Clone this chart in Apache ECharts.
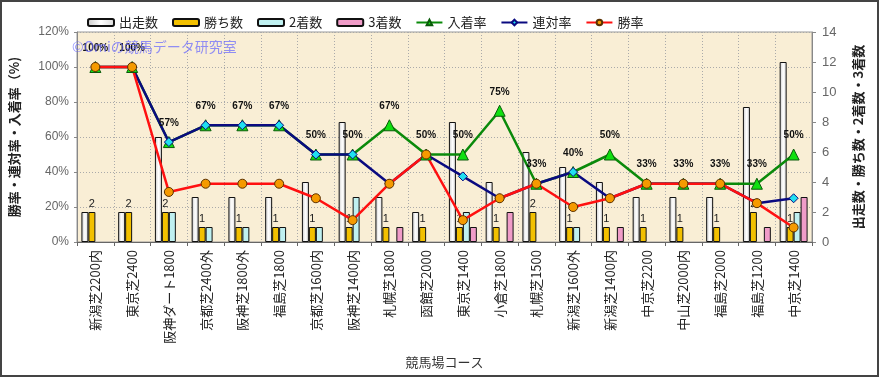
<!DOCTYPE html>
<html>
<head>
<meta charset="utf-8">
<script src="https://cdn.jsdelivr.net/npm/echarts@6/dist/echarts.min.js"></script>
<style>
  html, body { margin: 0; padding: 0; background: #fff; }
  #myChart { width: 881px; height: 378px; }
</style>
</head>
<body>
<div id="myChart"></div>
<script>
// course names (x axis)
const categories = ['新潟芝2200内', '東京芝2400', '阪神ダート1800', '京都芝2400外', '阪神芝1800外', '福島芝1800',
  '京都芝1600内', '阪神芝1400内', '札幌芝1800', '函館芝2000', '東京芝1400', '小倉芝1800', '札幌芝1500',
  '新潟芝1600外', '新潟芝1400内', '中京芝2200', '中山芝2000内', '福島芝2000', '福島芝1200', '中京芝1400'];

// counts (right axis)
const starts  = [2, 2, 7, 3, 3, 3, 4, 8, 3, 2, 8, 4, 6, 5, 4, 3, 3, 3, 9, 12];
const wins    = [2, 2, 2, 1, 1, 1, 1, 1, 1, 1, 1, 1, 2, 1, 1, 1, 1, 1, 2, 1];
const seconds = [0, 0, 2, 1, 1, 1, 1, 3, 0, 0, 2, 0, 0, 1, 0, 0, 0, 0, 0, 2];
const thirds  = [0, 0, 0, 0, 0, 0, 0, 0, 1, 0, 1, 2, 0, 0, 1, 0, 0, 0, 1, 3];

// rates in % (left axis)
const placeRate  = [100, 100, 57.1, 66.7, 66.7, 66.7, 50, 50, 66.7, 50, 50, 75, 33.3, 40, 50, 33.3, 33.3, 33.3, 33.3, 50];
const rentaiRate = [100, 100, 57.1, 66.7, 66.7, 66.7, 50, 50, 33.3, 50, 37.5, 25, 33.3, 40, 25, 33.3, 33.3, 33.3, 22.2, 25];
const winRate    = [100, 100, 28.6, 33.3, 33.3, 33.3, 25, 12.5, 33.3, 50, 12.5, 25, 33.3, 20, 25, 33.3, 33.3, 33.3, 22.2, 8.3];

// tick labels
const leftTicks = [0, 20, 40, 60, 80, 100, 120];
const rightTicks = [0, 2, 4, 6, 8, 10, 12, 14];

const FONT = '"Noto Sans CJK JP", sans-serif';
const myChart = echarts.init(document.getElementById('myChart'));

const barBorder = { borderColor: '#111', borderWidth: 1 };
// zero counts draw no bar at all
const noZero = arr => arr.map(v => (v === 0 ? '-' : v));

const option = {
  backgroundColor: '#fff',
  textStyle: { fontFamily: FONT },
  animation: false,
  legend: {
    left: 82,
    top: 11,
    itemWidth: 26,
    itemHeight: 7,
    itemGap: 14,
    textStyle: { fontSize: 13, color: '#222', fontFamily: FONT },
    data: ['出走数', '勝ち数', '2着数', '3着数', '入着率', '連対率', '勝率']
  },
  grid: {
    left: 76, right: 69, top: 32, bottom: 136,
    show: true,
    backgroundColor: '#f9eed5',
    borderColor: '#999',
    borderWidth: 1
  },
  graphic: [
    {
      type: 'text', left: 72, top: 40, z: 100,
      style: { text: '©Omiの競馬データ研究室', fill: 'rgba(100,100,255,0.7)', font: '14px ' + FONT }
    },
    {
      type: 'rect', z: 100, silent: true,
      shape: { x: 1, y: 1, width: 877, height: 375 },
      style: { fill: 'none', stroke: '#444', lineWidth: 2 }
    }
  ],
  xAxis: {
    type: 'category',
    data: categories,
    name: '競馬場コース',
    nameLocation: 'middle',
    nameGap: 114,
    nameTextStyle: { fontSize: 13, color: '#333' },
    axisLine: { lineStyle: { color: '#666' } },
    axisTick: { show: true, length: 4, lineStyle: { color: '#666' } },
    axisLabel: { rotate: 90, fontSize: 13, color: '#222', margin: 8, interval: 0 },
    splitLine: { show: true, lineStyle: { type: [1, 2], color: '#aaa' } }
  },
  yAxis: [
    {
      type: 'value',
      min: leftTicks[0], max: leftTicks[leftTicks.length - 1], interval: 20,
      name: '勝率・連対率・入着率（%)',
      nameLocation: 'middle',
      nameRotate: 90,
      nameGap: 56,
      nameTextStyle: { fontSize: 13, color: '#222', fontWeight: 'bold' },
      axisLine: { show: true, lineStyle: { color: '#888' } },
      axisTick: { show: true, length: 3, lineStyle: { color: '#888' } },
      axisLabel: { formatter: '{value}%', fontSize: 12, color: '#666', fontFamily: 'Liberation Sans' },
      splitLine: { show: true, lineStyle: { type: [1, 2], color: '#aaa' } }
    },
    {
      type: 'value',
      min: rightTicks[0], max: rightTicks[rightTicks.length - 1], interval: 2,
      name: '出走数・勝ち数・2着数・3着数',
      nameLocation: 'middle',
      nameRotate: 90,
      nameGap: 40,
      nameTextStyle: { fontSize: 13, color: '#222', fontWeight: 'bold' },
      axisLine: { show: true, lineStyle: { color: '#888' } },
      axisTick: { show: true, length: 4, lineStyle: { color: '#888' } },
      axisLabel: { fontSize: 13, color: '#666', fontFamily: 'Liberation Sans', margin: 10 },
      splitLine: { show: false }
    }
  ],
  series: [
    {
      name: '出走数', type: 'bar', yAxisIndex: 1, data: noZero(starts),
      barGap: '0%', barCategoryGap: '24%',
      itemStyle: Object.assign({
        color: new echarts.graphic.LinearGradient(0, 0, 1, 0, [
          { offset: 0, color: '#c8c8c8' }, { offset: 0.5, color: '#ffffff' }, { offset: 1, color: '#d8d8d8' }
        ])
      }, barBorder)
    },
    {
      name: '勝ち数', type: 'bar', yAxisIndex: 1, data: noZero(wins),
      itemStyle: Object.assign({ color: '#f2c000' }, barBorder),
      label: { show: true, position: 'top', distance: 3, fontSize: 11, color: '#222', fontFamily: 'Liberation Sans' }
    },
    {
      name: '2着数', type: 'bar', yAxisIndex: 1, data: noZero(seconds),
      itemStyle: Object.assign({ color: '#bff0f0' }, barBorder)
    },
    {
      name: '3着数', type: 'bar', yAxisIndex: 1, data: noZero(thirds),
      itemStyle: Object.assign({ color: '#f09cc8' }, barBorder)
    },
    {
      name: '入着率', type: 'line', yAxisIndex: 0, data: placeRate,
      symbol: 'triangle', symbolSize: 11,
      lineStyle: { color: '#0a8a0a', width: 2.5 },
      itemStyle: { color: '#10e010', borderColor: '#0a5a0a', borderWidth: 1 },
      label: {
        show: true, position: 'top', distance: 8,
        fontSize: 10, fontWeight: 'bold', color: '#111', fontFamily: 'Liberation Sans',
        formatter: p => Math.round(p.value) + '%'
      }
    },
    {
      name: '連対率', type: 'line', yAxisIndex: 0, data: rentaiRate,
      symbol: 'diamond', symbolSize: 9,
      lineStyle: { color: '#0a0a80', width: 2.5 },
      itemStyle: { color: '#20e0f0', borderColor: '#0a0a80', borderWidth: 1 }
    },
    {
      name: '勝率', type: 'line', yAxisIndex: 0, data: winRate,
      symbol: 'circle', symbolSize: 9,
      lineStyle: { color: '#ff1010', width: 2.5 },
      itemStyle: { color: '#f59a00', borderColor: '#5a3000', borderWidth: 1 }
    }
  ]
};

myChart.setOption(option);
</script>
</body>
</html>
